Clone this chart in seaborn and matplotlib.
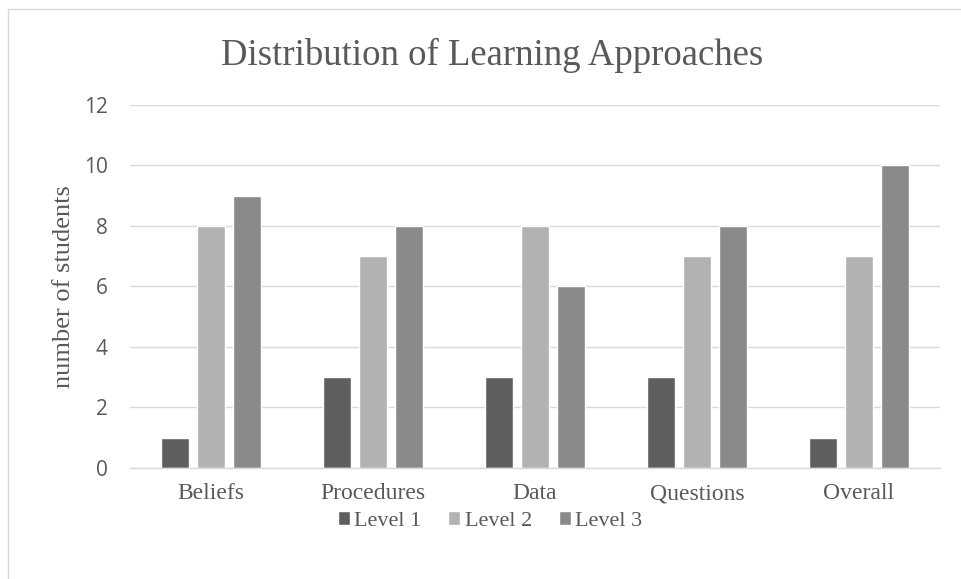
import matplotlib
matplotlib.use("Agg")
import matplotlib.pyplot as plt
import pandas as pd
import seaborn as sns
from matplotlib.lines import Line2D

# --- data ---
categories = ["Beliefs", "Procedures", "Data", "Questions", "Overall"]
levels = ["Level 1", "Level 2", "Level 3"]
level1 = [1, 3, 3, 3, 1]
level2 = [8, 7, 8, 7, 7]
level3 = [9, 8, 6, 8, 10]
y_ticks = [0, 2, 4, 6, 8, 10, 12]

df = pd.DataFrame({
    "category": categories * 3,
    "level": [levels[0]] * 5 + [levels[1]] * 5 + [levels[2]] * 5,
    "value": level1 + level2 + level3,
})

colors = ["#5f5f5f", "#b2b2b2", "#8a8a8a"]
text_color = "#595959"
serif = ["Liberation Serif", "DejaVu Serif"]

sns.set_style("white")
plt.rcParams["font.family"] = ["Open Sans", "DejaVu Sans"]

fig = plt.figure(figsize=(9.61, 5.79), dpi=100)
ax = fig.add_axes([0.135, 0.192, 0.843, 0.627])

sns.barplot(data=df, x="category", y="value", hue="level", palette=colors,
            width=0.667, gap=0.22, ax=ax, legend=True, saturation=1)

ax.set_ylim(0, 12)
ax.set_yticks(y_ticks)
ax.set_xlim(-0.5, 4.5)
ax.yaxis.grid(True, color="#d9d9d9", linewidth=1)
ax.set_axisbelow(True)
for s in ["top", "right", "left"]:
    ax.spines[s].set_visible(False)
ax.spines["bottom"].set_color("#d9d9d9")
ax.spines["bottom"].set_linewidth(1)
ax.tick_params(axis="both", length=0)
ax.tick_params(axis="y", labelsize=15, colors=text_color, pad=16)
ax.tick_params(axis="x", pad=11)
for lab in ax.get_xticklabels():
    lab.set_family(serif)
    lab.set_fontsize(17)
    lab.set_color(text_color)

ax.set_xlabel("")
ax.set_ylabel("number of students", family=serif, fontsize=19,
              color=text_color, labelpad=6)

fig.text(0.512, 0.905, "Distribution of Learning Approaches", family=serif,
         fontsize=26.5, color=text_color, ha="center", va="center")

handles, labels = ax.get_legend_handles_labels()
ax.legend_.remove()
fig.legend(handles, labels, loc="center", bbox_to_anchor=(0.51, 0.1),
           ncol=3, frameon=False, handlelength=0.55, handleheight=0.55,
           handletextpad=0.2, columnspacing=1.2,
           prop={"family": serif, "size": 16}, labelcolor=text_color)

# light chart border (top and left edges visible)
border = dict(transform=fig.transFigure, color="#d9d9d9", linewidth=1)
fig.lines.append(Line2D([8 / 961, 1], [1 - 9 / 579] * 2, **border))
fig.lines.append(Line2D([8 / 961] * 2, [0, 1 - 9 / 579], **border))

fig.savefig("out.png", dpi=100)
